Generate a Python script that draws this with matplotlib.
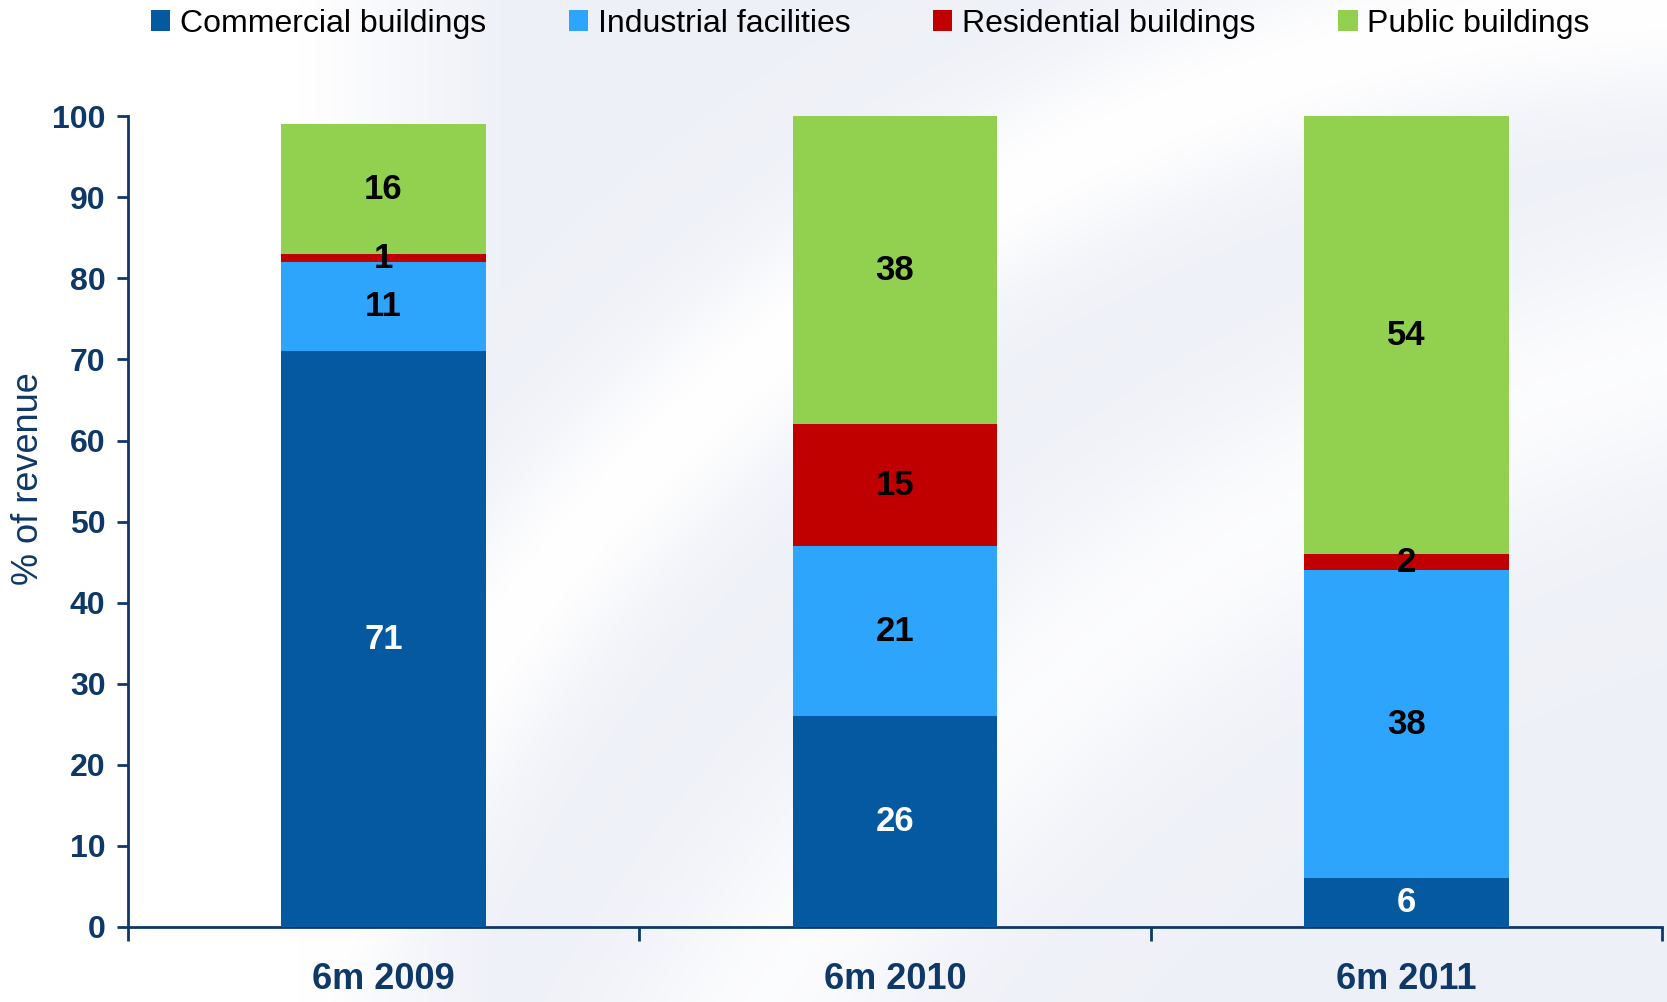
import numpy as np
import matplotlib.pyplot as plt
from matplotlib import font_manager

periods = ['6m 2009', '6m 2010', '6m 2011']
commercial = [71, 26, 6]
industrial = [11, 21, 38]
residential = [1, 15, 2]
public = [16, 38, 54]

series = ['Commercial buildings', 'Industrial facilities', 'Residential buildings', 'Public buildings']
colors = ['#0459a0', '#2da5fd', '#c00000', '#92d050']
label_colors = ['white', 'black', 'black', 'black']

navy = '#0e3868'
names = {f.name for f in font_manager.fontManager.ttflist}
fam = 'Liberation Sans Narrow' if 'Liberation Sans Narrow' in names else 'Liberation Sans'
plt.rcParams['font.family'] = [fam, 'DejaVu Sans']

fig = plt.figure(figsize=(16.67, 10.02), dpi=100)
fig.patch.set_facecolor('white')

# soft watermark-like background: light grey with white swooshes
bg = fig.add_axes([0, 0, 1, 1], zorder=-1)
bg.axis('off')
gx, gy = np.meshgrid(np.linspace(0, 1, 400), np.linspace(1, 0, 240))
grey = np.array([0.937, 0.945, 0.972])
w = np.clip((0.30 - gx) / 0.12, 0, 1)
r1 = np.hypot((gx - 1.05) * 1.67, gy + 0.55)
w = np.maximum(w, np.exp(-((r1 - 1.55) / 0.09) ** 2))
r2 = np.hypot((gx - 1.25) * 1.67, gy + 0.9)
w = np.maximum(w, 0.8 * np.exp(-((r2 - 1.6) / 0.12) ** 2))
img = grey[None, None, :] * (1 - w[..., None]) + w[..., None]
bg.imshow(img, extent=[0, 1, 0, 1], aspect='auto', interpolation='bilinear')
bg.set_xlim(0, 1)
bg.set_ylim(0, 1)

ax = fig.add_axes([0.0766, 0.0749, 0.9204, 0.8091])
ax.patch.set_alpha(0)

x = np.arange(len(periods))
data = [commercial, industrial, residential, public]
bottom = np.zeros(len(periods))
for vals, name, c, lc in zip(data, series, colors, label_colors):
    ax.bar(x, vals, 0.4, bottom=bottom, color=c, label=name, zorder=3)
    for xi, v, b in zip(x, vals, bottom):
        ax.text(xi, b + v / 2, str(v), ha='center', va='center', color=lc,
                fontsize=25, fontweight='bold', zorder=4)
    bottom += np.array(vals)

ax.set_xlim(-0.5, 2.5)
ax.set_ylim(0, 100)
ax.set_yticks(range(0, 101, 10))
ax.tick_params(axis='y', colors=navy, labelsize=23, width=2, length=8, direction='out', pad=8)
for lab in ax.get_yticklabels():
    lab.set_fontweight('bold')

ax.set_xticks([-0.5, 0.5, 1.5, 2.5])
ax.set_xticklabels([])
ax.tick_params(axis='x', colors=navy, width=2, length=10, direction='out')
for xi, p in zip(x, periods):
    ax.text(xi, -4.3, p, ha='center', va='top', color=navy, fontsize=26,
            fontweight='bold', clip_on=False)

for s in ['top', 'right']:
    ax.spines[s].set_visible(False)
for s in ['left', 'bottom']:
    ax.spines[s].set_color(navy)
    ax.spines[s].set_linewidth(2)

ax.set_ylabel('% of revenue', color=navy, fontsize=26)
ax.yaxis.set_label_coords(-0.053, 0.553)

fig.legend(loc='upper center', bbox_to_anchor=(0.522, 1.02), ncol=4, frameon=False,
           fontsize=23, handlelength=0.6, handleheight=0.6, handletextpad=0.3,
           columnspacing=2.6)

fig.savefig('out.png', dpi=100)
